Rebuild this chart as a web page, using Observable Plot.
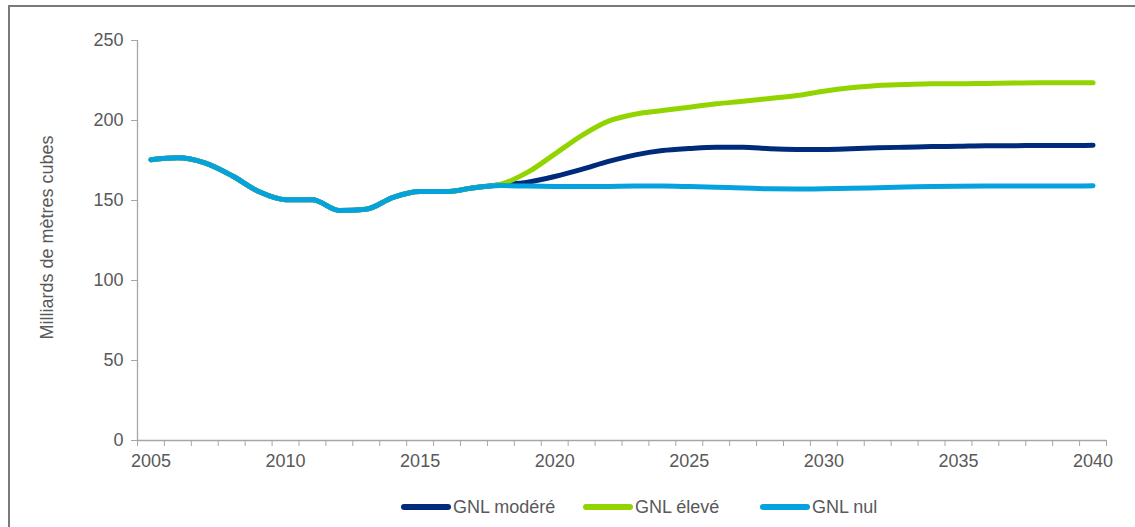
<!DOCTYPE html>
<html>
<head>
<meta charset="utf-8">
<script src="https://cdn.jsdelivr.net/npm/d3@7"></script>
<script src="https://cdn.jsdelivr.net/npm/@observablehq/plot@0.6"></script>
<style>
  html, body { margin: 0; padding: 0; background: #fff; width: 1135px; height: 527px; overflow: hidden; }
  body { font-family: "Liberation Sans", Arial, sans-serif; position: relative; }
  #frame { position: absolute; left: 8px; top: 5px; width: 1140px; height: 540px; border: 2px solid #7a7a7a; box-sizing: border-box; pointer-events: none; }
  #chart { position: absolute; left: 0; top: 0; }
  .legend-item { position: absolute; top: 494px; height: 26px; display: flex; align-items: center; font-size: 18px; color: #595959; }
  .legend-item .sw { width: 50px; height: 6px; border-radius: 3px; margin-right: 2px; }
</style>
</head>
<body>
<div id="chart"></div>
<div id="legend"></div>
<div id="frame"></div>
<script>
const years = [2005,2006,2007,2008,2009,2010,2011,2012,2013,2014,2015,2016,2017,2018,2019,2020,2021,2022,2023,2024,2025,2026,2027,2028,2029,2030,2031,2032,2033,2034,2035,2036,2037,2038,2039,2040];

const gnlModere = [175.5,176.7,173.5,165.6,155.6,150.5,150.5,143.8,144.6,152,155.6,155.6,158,159.8,161.5,165,169.4,174.4,178.5,181.2,182.5,183.3,183.3,182.3,181.9,181.9,182.3,182.9,183.3,183.7,183.9,184.2,184.2,184.4,184.4,184.6];
const gnlEleve = [175.5,176.7,173.5,165.6,155.6,150.5,150.5,143.8,144.6,152,155.6,155.6,158,160.2,167.7,179,190.6,199.6,204,206.2,208.3,210.4,212,213.8,215.6,218.3,220.4,221.9,222.5,223,223,223.2,223.4,223.6,223.6,223.6];
const gnlNul = [175.5,176.7,173.5,165.6,155.6,150.5,150.5,143.8,144.6,152,155.6,155.6,158,159.3,159,158.8,158.7,158.8,159,159,158.7,158.3,157.8,157.3,157.2,157.3,157.6,158,158.4,158.7,158.9,159,159,159,159,159.2];

const seriesNames = ["GNL modéré", "GNL élevé", "GNL nul"];
const seriesColors = ["#002a7c", "#92d400", "#04a3de"];
const yTicks = [0, 50, 100, 150, 200, 250];
const xLabels = [2005, 2010, 2015, 2020, 2025, 2030, 2035, 2040];
const yTitle = "Milliards de mètres cubes";

// category boundaries (ticks sit between categories)
const xTicks = [years[0] - 0.5, ...years.map(y => y + 0.5)];

const rows = [];
[gnlModere, gnlEleve, gnlNul].forEach((vals, i) => {
  years.forEach((yr, j) => rows.push({series: seriesNames[i], year: yr, value: vals[j]}));
});

const axisGray = "#a6a6a6";
const textGray = "#595959";

const chart = Plot.plot({
  width: 1135,
  height: 485,
  marginLeft: 137,
  marginRight: 29,
  marginTop: 40,
  marginBottom: 45,
  style: {fontFamily: "'Liberation Sans', Arial, sans-serif", background: "transparent"},
  x: {domain: [xTicks[0], xTicks[xTicks.length - 1]], axis: null},
  y: {domain: [0, 250], axis: null},
  color: {domain: seriesNames, range: seriesColors},
  marks: [
    Plot.ruleX([xTicks[0]], {stroke: axisGray, strokeWidth: 1.3}),
    Plot.ruleY([0], {stroke: axisGray, strokeWidth: 1.3}),
    Plot.axisY(yTicks, {anchor: "left", tickSize: 6, tickPadding: 8, stroke: axisGray, fill: textGray, fontSize: 18, label: null, tickFormat: d => String(d)}),
    Plot.axisX(xTicks, {anchor: "bottom", tickSize: 6, stroke: axisGray, tickFormat: () => "", label: null}),
    Plot.axisX(xLabels, {anchor: "bottom", tickSize: 0, tickPadding: 14, fill: textGray, fontSize: 18, label: null, tickFormat: d => String(d)}),
    Plot.text([yTitle], {frameAnchor: "left", textAnchor: "middle", rotate: -90, dx: -90, dy: -3, fill: textGray, fontSize: 18}),
    Plot.line(rows, {x: "year", y: "value", z: "series", stroke: "series", strokeWidth: 5, curve: "monotone-x", strokeLinecap: "round", strokeLinejoin: "round"})
  ]
});
document.getElementById("chart").appendChild(chart);

// legend (HTML, below the chart)
const legendLefts = [401, 583, 760];
const legend = document.getElementById("legend");
seriesNames.forEach((name, i) => {
  const item = document.createElement("div");
  item.className = "legend-item";
  item.style.left = legendLefts[i] + "px";
  const sw = document.createElement("span");
  sw.className = "sw";
  sw.style.background = seriesColors[i];
  const label = document.createElement("span");
  label.textContent = name;
  item.appendChild(sw);
  item.appendChild(label);
  legend.appendChild(item);
});
</script>
</body>
</html>
